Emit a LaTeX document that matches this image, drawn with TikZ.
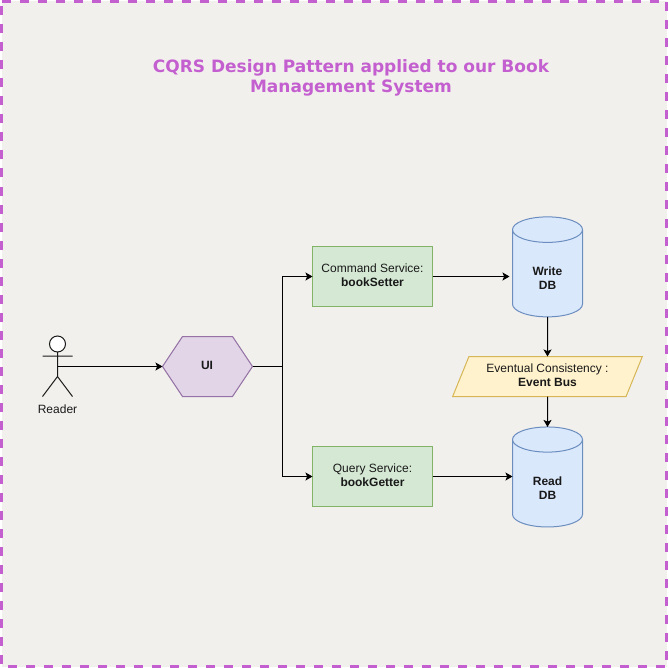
\documentclass[tikz,border=0pt]{standalone}
\usepackage{fontspec}
\setmainfont{Liberation Sans}
\newfontfamily\titlefont{DejaVu Sans}
\usetikzlibrary{shapes.geometric,arrows.meta}
\definecolor{framecol}{HTML}{C45FD0}
\definecolor{pagecol}{HTML}{F2F0ED}
\definecolor{svcline}{HTML}{82B366}
\definecolor{svcfill}{HTML}{D5E8D4}
\definecolor{dbline}{HTML}{6C8EBF}
\definecolor{dbfill}{HTML}{DAE8FC}
\definecolor{busline}{HTML}{D6B656}
\definecolor{busfill}{HTML}{FFF2CC}
\definecolor{uiline}{HTML}{9673A6}
\definecolor{uifill}{HTML}{E1D5E7}
\tikzset{>={Stealth[length=7pt,width=8pt,inset=1.6pt]}}
\tikzset{
	lbl/.style={font=\fontsize{12}{14}\selectfont,align=center,text=black!90,inner sep=0pt,outer sep=0pt},
	svcbox/.style={lbl,draw=svcline,fill=svcfill,minimum width=120pt,minimum height=60pt,text depth=3.6pt},
	dbcyl/.style={lbl,draw=dbline,fill=dbfill,cylinder,cylinder uses custom fill,cylinder body fill=dbfill,cylinder end fill=dbfill,shape border rotate=90,aspect=0.857,minimum height=100pt,minimum width=70pt,text height=31pt},
	busbox/.style={lbl,draw=busline,fill=busfill,trapezium,trapezium left angle=63.43,trapezium right angle=116.57,trapezium stretches=true,minimum width=190pt,minimum height=40pt,text depth=2.6pt},
	conn/.style={->,black,line width=1pt}
}
\begin{document}
\begin{tikzpicture}[line cap=butt,line join=miter,x=1pt,y=-1pt,line width=1pt]
		\useasboundingbox (0,0) rectangle (668,668);
		\draw[framecol,fill=pagecol,line width=3pt,dash pattern=on 9pt off 9pt] (1.5,1.5) -- (666.5,1.5) -- (666.5,666.5) -- (1.5,666.5) -- cycle;
		\node[font=\titlefont\bfseries\fontsize{17}{20}\selectfont,text=framecol,align=center,inner sep=0pt] (title) at (351,78) {CQRS Design Pattern applied to our Book\\Management System};
		% reader
		\coordinate (reader) at (57.5,366.5);
		\draw[black!90,fill=white] (57.5,344) circle (8);
		\draw[black!90] (57.5,352) -- (57.5,376.5) (42.5,356) -- (72.5,356) (42.5,396.5) -- (57.5,376.5) -- (72.5,396.5);
		\node[lbl] (readerlbl) at (57.5,409) {Reader};
		% ui
		\node[lbl,minimum width=90pt,minimum height=60pt] (ui) at (207.5,366.5) {};
		\draw[uiline,fill=uifill] (ui.west) -- ([xshift=20pt]ui.north west) -- ([xshift=-20pt]ui.north east) -- (ui.east) -- ([xshift=-20pt]ui.south east) -- ([xshift=20pt]ui.south west) -- cycle;
		\node[lbl] (uilbl) at (207,365) {\textbf{UI}};
		% services
		\node[svcbox] (cmd) at (372.5,276.5) {Command Service:\\\textbf{bookSetter}};
		\node[svcbox] (qry) at (372.5,476.5) {Query Service:\\\textbf{bookGetter}};
		% stores
		\node[dbcyl] (write) at (547.5,273.5) {\textbf{Write}\\\textbf{DB}};
		\node[dbcyl] (read) at (547.5,483.5) {\textbf{Read}\\\textbf{DB}};
		\node[busbox] (bus) at (547.5,376.5) {Eventual Consistency :\\\textbf{Event Bus}};
		% connectors
		\coordinate (split) at (282.5,366.5);
		\draw[conn] (reader) -- (ui.west);
		\draw[line width=1pt] (ui.east) -- (split);
		\draw[conn] (split) |- (cmd.west);
		\draw[conn] (split) |- (qry.west);
		\draw[conn,shorten >=3pt] (cmd.east) -- (write.west |- cmd.east);
		\draw[conn] (qry.east) -- (read.west |- qry.east);
		\draw[conn] (write.south) -- (bus.north);
		\draw[conn] (bus.south) -- (read.north);
		\end{tikzpicture}
\end{document}
